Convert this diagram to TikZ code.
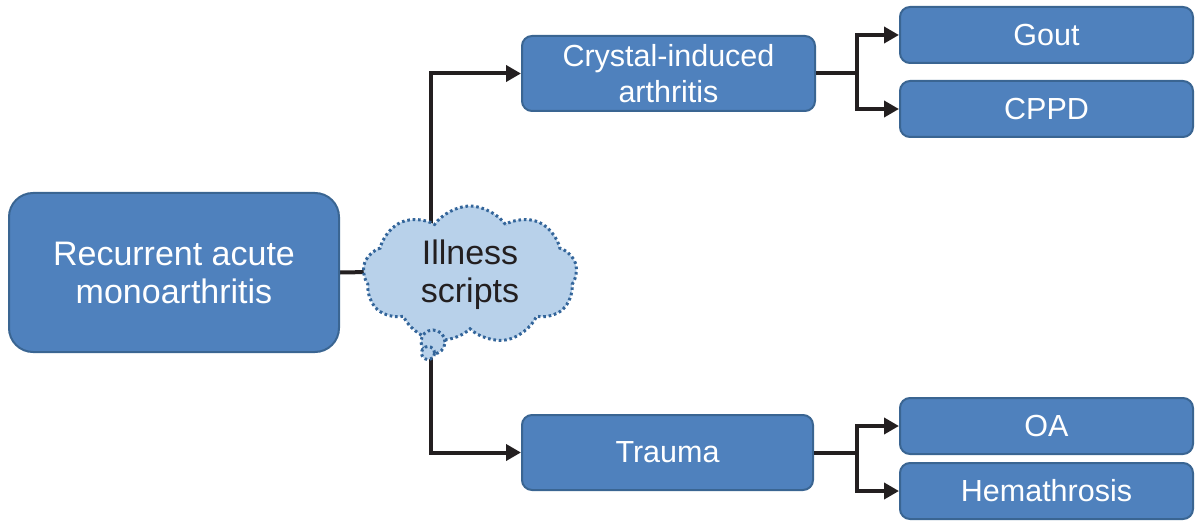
\documentclass[tikz,border=0pt]{standalone}
\usepackage{fontspec}
\setmainfont{Liberation Sans}
\usetikzlibrary{arrows.meta, shapes.symbols, backgrounds}
\definecolor{cblue}{HTML}{4F81BD}
\definecolor{cedge}{HTML}{3A6592}
\definecolor{csky}{HTML}{B8D1EA}
\definecolor{cdot}{HTML}{33659A}
\definecolor{cink}{HTML}{231F20}
\tikzset{
  every picture/.style={line width=2pt},
  box/.style={draw=cedge, fill=cblue, rounded corners=10pt, align=center, inner sep=0pt,
    text=white, font=\fontsize{30.5}{36}\selectfont, minimum width=293pt, minimum height=56pt},
  arrow/.style={-{Triangle[length=15pt, width=16pt]}, draw=cink, line width=4pt},
  link/.style={draw=cink, line width=4pt},
  puff/.style={draw=cdot, fill=csky, line width=3pt, dash pattern=on 2.6pt off 2.8pt},
}

\begin{document}
\begin{tikzpicture}[x=1pt, y=-1pt]
  \useasboundingbox (0,0) rectangle (1200,524);
  % start
  \node[box, rounded corners=24pt, minimum width=330pt, minimum height=159pt,
        font=\fontsize{34}{38}\selectfont] (main) at (174,272.5) {Recurrent acute\\monoarthritis};
  % thought bubble
  \node[puff, cloud, cloud puffs=9, cloud puff arc=110, aspect=1.55, minimum width=214pt,
        minimum height=138pt, inner sep=0pt, align=center, text=cink,
        font=\fontsize{34}{38}\selectfont] (ill) at (470,275) {Illness\\scripts};
  \node[puff, circle, minimum size=24pt, inner sep=0pt] (b1) at (433,342) {};
  \node[puff, circle, minimum size=13pt, inner sep=0pt] (b2) at (428,353) {};
  \coordinate (tap) at (431,271);
  % two groups
  \node[box, minimum width=293pt, minimum height=75pt] (crys) at (668.5,73.5) {Crystal-induced\\arthritis};
  \node[box, minimum width=291pt, minimum height=75pt] (trau) at (667.5,452.5) {Trauma};
  \node[box] (gout) at (1046.5,35) {Gout};
  \node[box] (cppd) at (1046.5,109) {CPPD};
  \node[box] (oa) at (1046.5,426) {OA};
  \node[box] (hema) at (1046.5,491) {Hemathrosis};
  % connectors, kept behind the cloud
  \begin{scope}[on background layer]
    \draw[link] (main.east) -- (tap);
    \draw[arrow] (tap) |- (crys.west);
    \draw[arrow] (tap) |- (trau.west);
  \end{scope}
  \coordinate (fk1) at (857,73.5);
  \coordinate (fk2) at (857,452.5);
  \draw[link] (crys.east) -- (fk1);
  \draw[arrow] (fk1) |- (gout.west);
  \draw[arrow] (fk1) |- (cppd.west);
  \draw[link] (trau.east) -- (fk2);
  \draw[arrow] (fk2) |- (oa.west);
  \draw[arrow] (fk2) |- (hema.west);
\end{tikzpicture}
\end{document}
